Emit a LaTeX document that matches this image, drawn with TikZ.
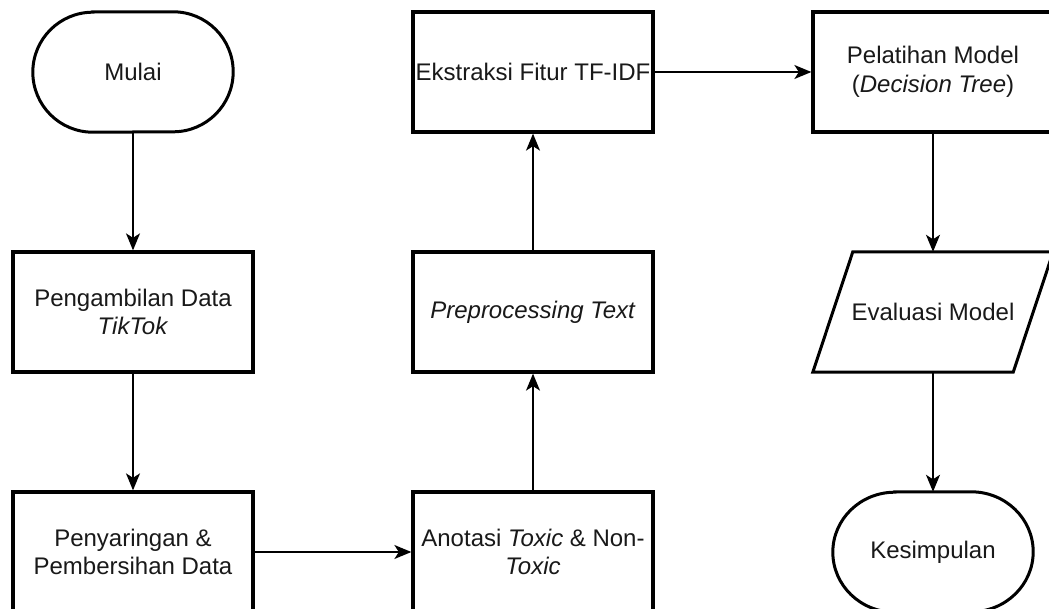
\documentclass[tikz,border=0pt]{standalone}
\usepackage{fontspec}
\setmainfont{Liberation Sans}
\usetikzlibrary{arrows.meta,calc}
\begin{document}
\begin{tikzpicture}[x=1pt,y=-1pt,
  txt/.style={font=\fontsize{24}{28.8}\selectfont, text=black!90, align=center, inner sep=0pt},
  boxnode/.style={txt, draw=black, line width=3.3pt, minimum width=240pt, minimum height=120pt},
  plainnode/.style={txt, minimum width=200pt, minimum height=120pt},
  shapeline/.style={draw=black, line width=3pt},
  conn/.style={-{Stealth[length=17pt,width=14pt,inset=4.5pt]}, line width=1.5pt}
]
\useasboundingbox (0,0) rectangle (1049,609);
\fill[white] (0,0) rectangle (1049,609);
\node[plainnode] (mulai) at (133,72) {Mulai};
\node[boxnode] (ambil) at (133,312) {Pengambilan Data\\\textit{TikTok}};
\node[boxnode] (saring) at (133,552) {Penyaringan \&\\Pembersihan Data};
\node[boxnode] (anotasi) at (533,552) {Anotasi \textit{Toxic} \& Non-\\\textit{Toxic}};
\node[boxnode] (prep) at (533,312) {\textit{Preprocessing Text}};
\node[boxnode] (ekstrak) at (533,72) {Ekstraksi Fitur TF-IDF};
\node[boxnode] (latih) at (933,72) {Pelatihan Model\\(\textit{Decision Tree})};
\node[txt, minimum width=240pt, minimum height=120pt] (eval) at (933,312) {Evaluasi Model};
\node[plainnode] (simpul) at (933,552) {Kesimpulan};

% terminator shapes
\draw[shapeline] ($(mulai.north west)+(60,0)$) -- ($(mulai.north east)+(-60,0)$)
  arc[start angle=90,end angle=-90,x radius=60pt,y radius=60pt]
  -- ($(mulai.south west)+(60,0)$)
  arc[start angle=270,end angle=90,x radius=60pt,y radius=60pt] -- cycle;
\draw[shapeline] ($(simpul.north west)+(62,0)$) -- ($(simpul.north east)+(-62,0)$)
  arc[start angle=90,end angle=-90,x radius=62pt,y radius=60pt]
  -- ($(simpul.south west)+(62,0)$)
  arc[start angle=270,end angle=90,x radius=62pt,y radius=60pt] -- cycle;
% parallelogram
\draw[shapeline] (eval.south west) -- ($(eval.north west)+(40,0)$) -- (eval.north east)
  -- ($(eval.south east)+(-40,0)$) -- cycle;

% connectors
\draw[conn] (mulai) -- (ambil);
\draw[conn] (ambil) -- (saring);
\draw[conn] (saring) -- (anotasi);
\draw[conn] (anotasi) -- (prep);
\draw[conn] (prep) -- (ekstrak);
\draw[conn] (ekstrak) -- (latih);
\draw[conn] (latih) -- (eval);
\draw[conn] (eval) -- (simpul);
\end{tikzpicture}
\end{document}
